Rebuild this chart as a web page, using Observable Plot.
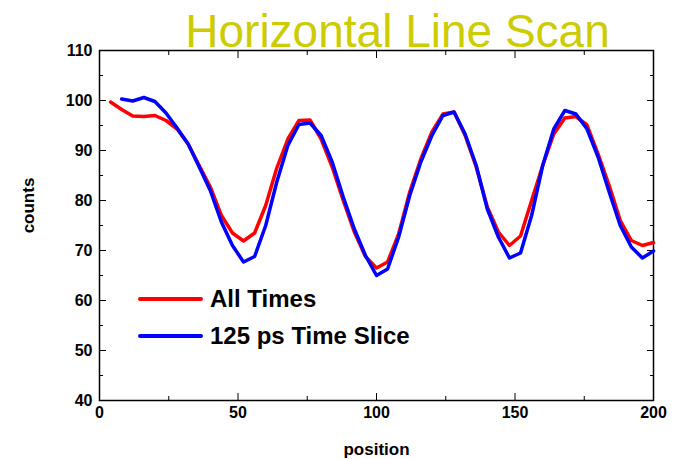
<!DOCTYPE html>
<html>
<head>
<meta charset="utf-8">
<script src="https://cdn.jsdelivr.net/npm/d3@7"></script>
<script src="https://cdn.jsdelivr.net/npm/@observablehq/plot@0.6"></script>
<style>
  html, body { margin: 0; padding: 0; background: #fff; }
  #wrap { position: relative; width: 678px; height: 459px; font-family: "Liberation Sans", Arial, sans-serif; }
  #legend { position: absolute; left: 138px; top: 280px; font-weight: bold; font-size: 24px; color: #000; }
  #legend .row { display: flex; align-items: center; height: 37px; }
  #legend .sw { width: 65px; height: 4px; margin-right: 7px; border-radius: 2px; }
</style>
</head>
<body>
<div id="wrap"></div>
<script>
const title = "Horizontal Line Scan";
const xLabel = "position";
const yLabel = "counts";
const seriesNames = ["All Times", "125 ps Time Slice"];
const seriesColors = ["#ff0000", "#0000ff"];

const xMajor = [0, 50, 100, 150, 200];
const xMinor = [25, 75, 125, 175];
const yMajor = [40, 50, 60, 70, 80, 90, 100, 110];
const yMinor = [45, 55, 65, 75, 85, 95, 105];

const allTimesX = [4, 8, 12, 16, 20, 24, 28, 32, 36, 40, 44, 48, 52, 56, 60, 64, 68, 72, 76, 80, 84, 88, 92, 96, 100,
  104, 108, 112, 116, 120, 124, 128, 132, 136, 140, 144, 148, 152, 156, 160, 164, 168, 172, 176, 180, 184, 188, 192, 196, 200];
const allTimesY = [99.7, 98.2, 96.9, 96.8, 97.0, 96.0, 94.3, 91.3, 87.0, 82.7, 77.0, 73.5, 71.9, 73.5, 79.0, 86.5, 92.3, 96.0, 96.1, 92.3,
  86.7, 80.0, 73.7, 68.8, 66.5, 67.7, 73.3, 81.7, 88.3, 93.7, 97.3, 97.7, 93.0, 86.7, 78.7, 73.7, 71.0, 72.9, 80.0, 87.0,
  93.3, 96.5, 96.8, 95.1, 89.3, 83.0, 76.0, 72.0, 71.0, 71.6];

const sliceX = [8, 12, 16, 20, 24, 28, 32, 36, 40, 44, 48, 52, 56, 60, 64, 68, 72, 76, 80, 84, 88, 92, 96, 100,
  104, 108, 112, 116, 120, 124, 128, 132, 136, 140, 144, 148, 152, 156, 160, 164, 168, 172, 176, 180, 184, 188, 192, 196, 200];
const sliceY = [100.3, 99.9, 100.6, 99.8, 97.5, 94.5, 91.3, 86.7, 82.0, 75.7, 71.0, 67.7, 68.8, 75.0, 83.7, 91.0, 95.2, 95.5, 93.0,
  87.7, 80.7, 74.3, 69.0, 65.0, 66.3, 72.7, 81.0, 87.7, 93.0, 97.0, 97.7, 93.3, 87.0, 78.3, 72.7, 68.5, 69.5, 77.0, 87.0,
  94.3, 98.0, 97.3, 94.3, 88.7, 81.7, 75.0, 70.7, 68.5, 69.9];

const allTimes = allTimesX.map((x, i) => ({x, y: allTimesY[i]}));
const slice = sliceX.map((x, i) => ({x, y: sliceY[i]}));

const font = "Liberation Sans, Arial, sans-serif";

const chart = Plot.plot({
  width: 678,
  height: 459,
  marginLeft: 99,
  marginRight: 25,
  marginTop: 50,
  marginBottom: 59,
  style: {fontFamily: font, fontSize: "16px", fontWeight: "bold", color: "#000", background: "#fff"},
  x: {domain: [0, 200], axis: null},
  y: {domain: [40, 110], axis: null},
  marks: [
    // tick labels
    Plot.axisX({anchor: "bottom", ticks: xMajor, tickSize: 0, tickPadding: 6, tickFormat: d => d, fontSize: 16, fontWeight: "bold", label: null}),
    Plot.axisY({anchor: "left", ticks: yMajor, tickSize: 0, tickPadding: 7, tickFormat: d => d, fontSize: 16, fontWeight: "bold", label: null}),
    // inward ticks on all four sides
    Plot.axisX({anchor: "bottom", ticks: xMajor, tickSize: -7, text: null, label: null}),
    Plot.axisX({anchor: "bottom", ticks: xMinor, tickSize: -4, text: null, label: null}),
    Plot.axisX({anchor: "top", ticks: xMajor, tickSize: -7, text: null, label: null}),
    Plot.axisX({anchor: "top", ticks: xMinor, tickSize: -4, text: null, label: null}),
    Plot.axisY({anchor: "left", ticks: yMajor, tickSize: -7, text: null, label: null}),
    Plot.axisY({anchor: "left", ticks: yMinor, tickSize: -4, text: null, label: null}),
    Plot.axisY({anchor: "right", ticks: yMajor, tickSize: -7, text: null, label: null}),
    Plot.axisY({anchor: "right", ticks: yMinor, tickSize: -4, text: null, label: null}),
    Plot.frame({stroke: "#000", strokeWidth: 1.5}),
    Plot.line(allTimes, {x: "x", y: "y", stroke: seriesColors[0], strokeWidth: 3.5}),
    Plot.line(slice, {x: "x", y: "y", stroke: seriesColors[1], strokeWidth: 3.5}),
    Plot.text([xLabel], {frameAnchor: "bottom", dy: 49, fontSize: 17, fontWeight: "bold", lineAnchor: "middle"}),
    Plot.text([yLabel], {frameAnchor: "left", dx: -71, dy: -20, rotate: -90, textAnchor: "middle", fontSize: 17, fontWeight: "bold", lineAnchor: "middle"}),
    Plot.text([title], {frameAnchor: "top", dx: 21, dy: -4, fontSize: 46, fontWeight: "normal", fill: "#cccc00", lineAnchor: "bottom"})
  ]
});

const wrap = document.getElementById("wrap");
wrap.appendChild(chart);

const legend = document.createElement("div");
legend.id = "legend";
seriesNames.forEach((name, i) => {
  const row = document.createElement("div");
  row.className = "row";
  const sw = document.createElement("div");
  sw.className = "sw";
  sw.style.background = seriesColors[i];
  const label = document.createElement("span");
  label.textContent = name;
  row.appendChild(sw);
  row.appendChild(label);
  legend.appendChild(row);
});
wrap.appendChild(legend);
</script>
</body>
</html>
